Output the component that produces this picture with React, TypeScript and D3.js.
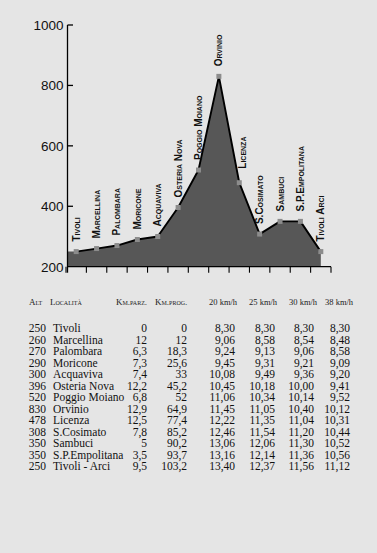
import React from "react";
import * as d3 from "d3";

const places = ["Tivoli","Marcellina","Palombara","Moricone","Acquaviva","Osteria Nova","Poggio Moiano","Orvinio","Licenza","S.Cosimato","Sambuci","S.P.Empolitana","Tivoli Arci"];
const tableNames = ["Tivoli","Marcellina","Palombara","Moricone","Acquaviva","Osteria Nova","Poggio Moiano","Orvinio","Licenza","S.Cosimato","Sambuci","S.P.Empolitana","Tivoli - Arci"];
const altitudes = [250,260,270,290,300,396,520,830,478,308,350,350,250];
const kmParz = ["0","12","6,3","7,3","7,4","12,2","6,8","12,9","12,5","7,8","5","3,5","9,5"];
const kmProg = ["0","12","18,3","25,6","33","45,2","52","64,9","77,4","85,2","90,2","93,7","103,2"];
const t20 = ["8,30","9,06","9,24","9,45","10,08","10,45","11,06","11,45","12,22","12,46","13,06","13,16","13,40"];
const t25 = ["8,30","8,58","9,13","9,31","9,49","10,18","10,34","11,05","11,35","11,54","12,06","12,14","12,37"];
const t30 = ["8,30","8,54","9,06","9,21","9,36","10,00","10,14","10,40","11,04","11,20","11,30","11,36","11,56"];
const t38 = ["8,30","8,48","8,58","9,09","9,20","9,41","9,52","10,12","10,31","10,44","10,52","10,56","11,12"];
const yTicks = [200,400,600,800,1000];
const headers = ["Alt","Località","Km.parz.","Km.prog.","20 km/h","25 km/h","30 km/h","38 km/h"];

const W = 377, H = 553;

export default function App() {
  const x = d3.scaleBand<string>().domain(places).range([66, 331]).padding(0);
  const cx = (p: string) => (x(p) as number) + x.bandwidth() / 2;
  const y = d3.scaleLinear().domain([200, 1000]).range([266.7, 25]);
  const axisX = 67.5;
  const base = y(200);

  const pts: [number, number][] = places.map((p, i) => [cx(p), y(altitudes[i])]);
  const areaPts: [number, number][] = [[axisX, y(altitudes[0])], ...pts];
  const area = d3.area<[number, number]>().x(d => d[0]).y0(base).y1(d => d[1])(areaPts) || "";
  const line = d3.line<[number, number]>().x(d => d[0]).y(d => d[1])(pts) || "";

  const bounds = d3.range(places.length + 1).map(i => 66 + i * x.bandwidth());

  const rowY = d3.scaleLinear().domain([0, tableNames.length - 1]).range([332, 470]);
  const cols: { x: number; anchor: "start" | "end"; vals: string[] }[] = [
    { x: 46, anchor: "end", vals: altitudes.map(String) },
    { x: 53, anchor: "start", vals: tableNames },
    { x: 147, anchor: "end", vals: kmParz },
    { x: 187, anchor: "end", vals: kmProg },
    { x: 235, anchor: "end", vals: t20 },
    { x: 275, anchor: "end", vals: t25 },
    { x: 314, anchor: "end", vals: t30 },
    { x: 350, anchor: "end", vals: t38 },
  ];
  const headerX = [29, 50, 116, 155, 209, 249, 289, 325];

  const labelShift = (i: number) => {
    const prev = i > 0 ? altitudes[i - 1] : altitudes[i];
    return prev - altitudes[i] > 200 ? { dx: 3.5, dy: -4 } : { dx: 0, dy: 0 };
  };

  return (
    <div style={{ position: "absolute", left: 0, top: 0 }}>
      <svg width={W} height={H} style={{ display: "block" }}>
        <rect x={0} y={0} width={W} height={H} fill="#e5e5e5" />
        <path d={area} fill="#575757" />
        <path d={line} fill="none" stroke="#000" strokeWidth={1.9} strokeLinejoin="round" />
        {pts.map((d, i) => (
          <rect key={i} x={d[0] - 2.5} y={d[1] - 2.5} width={5} height={5} fill="#8c8c8c" />
        ))}
        <line x1={axisX} x2={axisX} y1={y(1000)} y2={base + 6} stroke="#000" strokeWidth={1.3} />
        {yTicks.map(t => (
          <g key={t}>
            {t !== 200 && <line x1={axisX} x2={axisX + 5.5} y1={y(t)} y2={y(t)} stroke="#000" strokeWidth={1.3} />}
            <text x={63.5} y={y(t)} dy="0.36em" textAnchor="end" fontFamily="Liberation Sans, Arial, sans-serif" fontSize={13.5} fill="#111">{t}</text>
          </g>
        ))}
        <line x1={axisX} x2={bounds[bounds.length - 1]} y1={base} y2={base} stroke="#000" strokeWidth={1.3} />
        {bounds.map((b, i) => (
          <line key={i} x1={b} x2={b} y1={base} y2={base + 6} stroke="#000" strokeWidth={1.1} />
        ))}
        {places.map((p, i) => {
          const s = labelShift(i);
          const lx = cx(p) + 3.5 + s.dx;
          const ly = y(altitudes[i]) - 10 + s.dy;
          return (
            <text key={p} transform={`translate(${lx},${ly}) rotate(-90)`} fontFamily="Liberation Sans, Arial, sans-serif" fontSize={10} fontWeight="bold" style={{ fontVariant: "small-caps" }} fill="#111">{p}</text>
          );
        })}
        {headers.map((h, i) => (
          <text key={h} x={headerX[i]} y={305} fontFamily="Liberation Serif, Times New Roman, serif" fontSize={i < 4 ? 9 : 8.5} style={{ fontVariant: i < 4 ? "small-caps" : "normal" }} fill="#222">{h}</text>
        ))}
        {cols.map((c, ci) => c.vals.map((v, ri) => (
          <text key={ci + "-" + ri} x={c.x} y={rowY(ri)} textAnchor={c.anchor} fontFamily="Liberation Serif, Times New Roman, serif" fontSize={11.5} fill="#111">{v}</text>
        )))}
      </svg>
    </div>
  );
}
